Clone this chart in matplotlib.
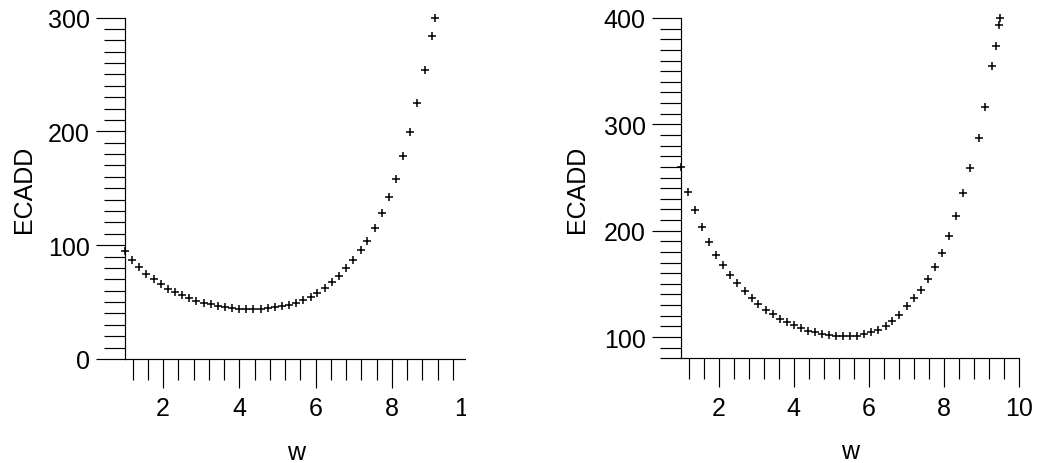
import matplotlib
matplotlib.use("Agg")
import matplotlib.pyplot as plt
from matplotlib.ticker import MultipleLocator, FixedLocator
from matplotlib.transforms import Bbox, TransformedBbox

plt.rcParams['font.family'] = ['Liberation Sans', 'DejaVu Sans']

# Left panel: ECADD against w
w_left = [1.00, 1.19, 1.37, 1.56, 1.75, 1.94, 2.12, 2.31, 2.50, 2.68,
          2.87, 3.06, 3.25, 3.43, 3.62, 3.81, 3.99, 4.18, 4.37, 4.56,
          4.74, 4.93, 5.12, 5.30, 5.49, 5.68, 5.87, 6.05, 6.24, 6.43,
          6.61, 6.80, 6.99, 7.18, 7.36, 7.55, 7.74, 7.92, 8.11, 8.30,
          8.49, 8.67, 8.86, 9.05, 9.13]
ecadd_left = [95.2, 86.7, 80.6, 75.0, 70.6, 66.2, 61.8, 58.6, 56.0, 53.5,
              51.3, 49.6, 48.0, 46.5, 45.3, 44.6, 44.1, 43.9, 43.9, 44.1,
              44.6, 45.3, 46.3, 47.7, 49.6, 51.8, 54.6, 57.9, 62.2, 67.4,
              73.2, 79.7, 87.0, 95.8, 104.0, 115.1, 128.0, 142.6, 158.0, 178.6,
              199.7, 225.2, 254.0, 284.1, 300.0]

# Right panel: ECADD against w
w_right = [1.00, 1.19, 1.38, 1.56, 1.75, 1.94, 2.12, 2.31, 2.50, 2.69,
           2.88, 3.06, 3.25, 3.44, 3.62, 3.81, 4.00, 4.19, 4.38, 4.56,
           4.75, 4.94, 5.12, 5.31, 5.50, 5.69, 5.88, 6.06, 6.25, 6.44,
           6.62, 6.81, 7.00, 7.19, 7.38, 7.56, 7.75, 7.94, 8.12, 8.31,
           8.50, 8.69, 8.92, 9.08, 9.27, 9.37, 9.46, 9.48]
ecadd_right = [259.8, 236.6, 219.6, 203.0, 189.3, 177.1, 167.7, 158.5, 150.4, 142.9,
               136.7, 131.0, 125.7, 121.2, 117.0, 114.0, 110.9, 108.3, 106.0, 104.3,
               102.9, 101.7, 101.0, 100.6, 100.6, 101.0, 102.4, 104.3, 107.0, 110.5,
               115.0, 121.0, 129.0, 136.5, 144.5, 154.1, 165.8, 179.2, 194.9, 213.7,
               235.0, 259.0, 287.3, 316.2, 354.7, 373.5, 393.5, 399.8]

x_major = [2, 4, 6, 8, 10]
x_labels = ['2', '4', '6', '8', '10']

W, H = 1041, 464
fig = plt.figure(figsize=(W / 100, H / 100), dpi=100)
ax1 = fig.add_axes([125 / W, 104 / H, 343 / W, 341.5 / H])
ax2 = fig.add_axes([681 / W, 104.7 / H, 338.4 / W, 340.3 / H])

FS = 18


def style(ax, ylim, ypad):
    ax.set_xlim(1, 10)
    ax.set_ylim(*ylim)
    for side in ('top', 'right'):
        ax.spines[side].set_visible(False)
    for side in ('left', 'bottom'):
        ax.spines[side].set_linewidth(0.85)
        ax.spines[side].set_color('black')
    ax.xaxis.set_major_locator(FixedLocator(x_major))
    ax.set_xticklabels(x_labels)
    ax.xaxis.set_minor_locator(MultipleLocator(0.4))
    ax.yaxis.set_major_locator(MultipleLocator(100))
    ax.yaxis.set_minor_locator(MultipleLocator(10))
    ax.tick_params(which='major', direction='out', length=21, width=0.85,
                   color='black', labelsize=FS)
    ax.tick_params(which='minor', direction='out', length=15, width=0.85,
                   color='black')
    ax.tick_params(axis='x', which='major', pad=6)
    ax.tick_params(axis='y', which='major', pad=4.5)
    ax.set_xlabel('w', fontsize=FS, labelpad=14)
    ax.set_ylabel('ECADD', fontsize=FS, labelpad=ypad)


style(ax1, (0, 300), 8)
style(ax2, (80, 400), 10.5)

ax1.plot(w_left, ecadd_left, linestyle='none', marker='+', markersize=6,
         markeredgewidth=1.1, color='black', clip_on=False)
ax2.plot(w_right, ecadd_right, linestyle='none', marker='+', markersize=6,
         markeredgewidth=1.1, color='black', clip_on=False)

# The left panel's drawing area stops just short of its last tick
clip = TransformedBbox(Bbox.from_extents(0, 0, 466 / W, 1), fig.transFigure)
for spine in ax1.spines.values():
    spine.set_clip_box(clip)
    spine.set_clip_on(True)
for tick in ax1.xaxis.get_major_ticks() + ax1.xaxis.get_minor_ticks():
    for art in (tick.tick1line, tick.label1):
        art.set_clip_box(clip)
        art.set_clip_on(True)

fig.savefig('out.png', dpi=100)
